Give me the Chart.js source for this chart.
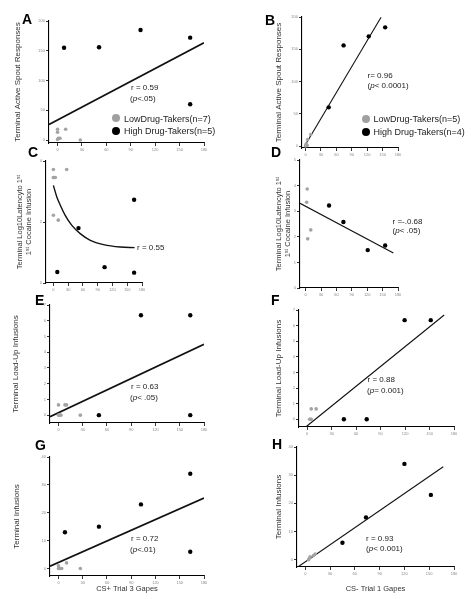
<!DOCTYPE html>
<html><head><meta charset="utf-8">
<script src="https://cdn.jsdelivr.net/npm/chart.js@4.4.1/dist/chart.umd.min.js"></script>
<style>
html,body{margin:0;padding:0;background:#fff;width:472px;height:599px;overflow:hidden;position:relative;font-family:"Liberation Sans",Arial,sans-serif;}
canvas{position:absolute;}
.t{position:absolute;white-space:nowrap;transform:translateY(-50%);line-height:1;color:#222;font-size:8px;}
.lg{font-size:9px;}
.L{font-weight:bold;font-size:14px;color:#000;}
.dot{position:absolute;border-radius:50%;transform:translate(-50%,-50%);width:8px;height:8px;}
</style></head><body>
<script>
const FONT = '"Liberation Sans", Arial, sans-serif';

// ---- tick values ----
const gapeTicks = [0, 30, 60, 90, 120, 150, 180];
const spoutTicks = [0, 50, 100, 150, 200];
const latencyTicksC = [0, 2, 4];
const latencyTicksD = [0, 1, 2, 3, 4, 5];
const loadUpTicks = [0, 1, 2, 3, 4, 5, 6, 7];
const infusionTicks = [0, 10, 20, 30, 40];

// ---- A: CS+ Trial 3 gapes vs active spout responses ----
const aLow  = [[0,18],[0,13],[1,3],[3,3],[10,18],[28,0],[0,1]];
const aHigh = [[8,155],[51,156],[102,185],[163,172],[163,60]];
const aFit  = [[-10.5,26],[180,163.5]];
// ---- B: CS- Trial 1 gapes vs active spout responses ----
const bLow  = [[0,0],[1,3],[4,10],[10,18],[3,1]];
const bHigh = [[45,60],[74,156],[123,170],[155,184]];
const bFit  = [[-2.7,-1],[147,199.5]];
// ---- C: CS+ vs log10 latency (curve) ----
const cLow  = [[0,3.72],[27,3.72],[0,3.46],[4,3.46],[0,2.22],[10,2.06],[1,3.46]];
const cHigh = [[8,0.36],[51,1.8],[104,0.52],[164,2.73],[164,0.34]];
const cFit  = [[0,3.2],[7,2.82],[14,2.55],[24,2.22],[37.5,1.89],[54.5,1.62],[75,1.4],[102,1.26],[136,1.18],[165,1.16]];
// ---- D: CS- vs log10 latency ----
const dLow  = [[3,3.87],[2,3.35],[10,2.27],[4,1.92]];
const dHigh = [[45.6,3.22],[73.6,2.58],[121,1.48],[155,1.66]];
const dFit  = [[-11,3.31],[171,1.37]];
// ---- E: CS+ vs load-up infusions ----
const eLow  = [[0,0.65],[0,0],[3,0],[8,0.65],[10,0.65],[27,0],[1,0]];
const eHigh = [[50,0],[102,6.35],[163,6.35],[163,0]];
const eFit  = [[-10.5,-0.1],[180,4.5]];
// ---- F: CS- vs load-up infusions ----
const fLow  = [[3,0],[5,0],[5,0.66],[11,0.66],[4,0]];
const fHigh = [[45,0],[73,0],[119.5,6.35],[151.5,6.35]];
const fFit  = [[-1,-0.47],[168,6.68]];
// ---- G: CS+ vs terminal infusions ----
const gLow  = [[0,1],[0,0],[2,0],[4,0],[10,2],[27,0],[1,0]];
const gHigh = [[8,13],[50,15],[102,23],[163,34],[163,6]];
const gFit  = [[-10.5,0.8],[180,25.3]];
// ---- H: CS- vs terminal infusions ----
const hLow  = [[4,0],[5,0.5],[6,1],[10,1.5],[12,2]];
const hHigh = [[45,6],[73.5,15],[120,34],[152,23]];
const hFit  = [[-9,-2.6],[167,33]];

const yTitleSpout = 'Terminal Active Spout Responses';
const yTitleLatency = ['Terminal Log10Latencyto 1ˢᵗ', '1ˢᵗ Cocaine Infusion'];
const yTitleLoad = 'Terminal Load-Up Infusions';
const yTitleInf = 'Terminal Infusions';
const xTitleG = 'CS+ Trial 3 Gapes';
const xTitleH = 'CS- Trial 1 Gapes';
const legendA = ['LowDrug-Takers(n=7)', 'High Drug-Takers(n=5)'];
const legendB = ['LowDrug-Takers(n=5)', 'High Drug-Takers(n=4)'];

const pts = a => a.map(([x, y]) => ({x, y}));

const panels = [
  {area:[49,21,204,143], x:[-10.5,180], y:[-5,200], yt:spoutTicks, low:aLow, high:aHigh, fit:aFit, lw:1.8, yTitle:yTitleSpout, yfs:8, yTitleX:18},
  {area:[302,17,398,148], x:[-7,180], y:[-3,200], yt:spoutTicks, low:bLow, high:bHigh, fit:bFit, lw:1.1, yTitle:yTitleSpout, yfs:8, yTitleX:278.7},
  {area:[46,161,142,283], x:[-15,180], y:[0,4], yt:latencyTicksC, low:cLow, high:cHigh, fit:cFit, lw:1.4, tension:0.4, yTitle:yTitleLatency, yfs:7.5, yTitleX:20},
  {area:[300,160,398,288], x:[-11,180], y:[0,5], yt:latencyTicksD, low:dLow, high:dHigh, fit:dFit, lw:1.1, yTitle:yTitleLatency, yfs:7.5, yTitleX:279.3},
  {area:[50,305,204,423], x:[-10.5,180], y:[-0.5,7], yt:loadUpTicks, low:eLow, high:eHigh, fit:eFit, lw:1.8, yTitle:yTitleLoad, yfs:8, yTitleX:15.5},
  {area:[299,310,454,427], x:[-10,180], y:[-0.5,7], yt:loadUpTicks, low:fLow, high:fHigh, fit:fFit, lw:1.1, yTitle:yTitleLoad, yfs:8, yTitleX:278.7},
  {area:[50,457,204,576], x:[-10.5,180], y:[-2.7,40], yt:infusionTicks, low:gLow, high:gHigh, fit:gFit, lw:1.8, yTitle:yTitleInf, yfs:8, yTitleX:16.7, xTitle:xTitleG, xTitleY:589},
  {area:[297,447,454,567], x:[-10,180], y:[-2.6,40], yt:infusionTicks, low:hLow, high:hHigh, fit:hFit, lw:1.1, yTitle:yTitleInf, yfs:8, yTitleX:278.7, xTitle:xTitleH, xTitleY:589},
];

function makePanel(p) {
  const yW = 40, padT = 6, padR = 8;
  const xH = p.xTitle ? 30 : 14;
  const [L, T, R, B] = p.area;
  const cl = L - yW, ct = T - padT;
  const w = R + padR - cl, h = B + xH - ct;
  const cv = document.createElement('canvas');
  cv.width = w; cv.height = h;
  cv.style.left = cl + 'px'; cv.style.top = ct + 'px';
  cv.style.width = w + 'px'; cv.style.height = h + 'px';
  document.body.appendChild(cv);
  const ylh = p.yfs * 1.2;
  const yPad = p.yTitleX - cl - ylh / 2;
  const xfs = 7.5, xlh = xfs * 1.2;
  const xPadB = p.xTitle ? (B + xH) - xlh / 2 - p.xTitleY : 0;
  const tickFont = {size: 4, family: FONT};
  new Chart(cv, {
    type: 'scatter',
    data: {datasets: [
      {data: pts(p.low), backgroundColor: '#a3a3a3', pointRadius: 1.8, borderWidth: 0, pointHoverRadius: 1.8},
      {data: pts(p.high), backgroundColor: '#000', pointRadius: 2.2, borderWidth: 0, pointHoverRadius: 2.2},
      {data: pts(p.fit), showLine: true, borderColor: '#111', borderWidth: p.lw, pointRadius: 0, fill: false, tension: p.tension || 0, cubicInterpolationMode: p.tension ? 'monotone' : 'default'}
    ]},
    options: {
      responsive: false, animation: false, devicePixelRatio: 1,
      layout: {padding: {left: 0, top: padT, right: padR, bottom: 0}},
      plugins: {legend: {display: false}, tooltip: {enabled: false}},
      scales: {
        x: {
          type: 'linear', position: 'bottom', min: p.x[0], max: p.x[1],
          afterBuildTicks: s => { s.ticks = gapeTicks.map(v => ({value: v})); },
          afterFit: s => { s.height = xH; },
          grid: {drawOnChartArea: false, drawTicks: true, tickLength: 3, color: '#000', lineWidth: 0.8},
          border: {display: true, color: '#000', width: 1.1},
          ticks: {font: tickFont, color: '#888', padding: 1, maxRotation: 0, autoSkip: false},
          title: p.xTitle ? {display: true, text: p.xTitle, color: '#333', font: {size: xfs, family: FONT}, padding: {top: 0, bottom: xPadB}} : {display: false}
        },
        y: {
          type: 'linear', position: 'left', min: p.y[0], max: p.y[1],
          afterBuildTicks: s => { s.ticks = p.yt.map(v => ({value: v})); },
          afterFit: s => { s.width = yW; },
          grid: {drawOnChartArea: false, drawTicks: true, tickLength: 3, color: '#000', lineWidth: 0.8},
          border: {display: true, color: '#000', width: 1.1},
          ticks: {font: tickFont, color: '#888', padding: 1, autoSkip: false},
          title: {display: true, text: p.yTitle, color: '#333', font: {size: p.yfs, family: FONT}, padding: {top: yPad, bottom: 0}}
        }
      }
    }
  });
}
panels.forEach(makePanel);

// ---- text overlays ----
function addText(html, x, y, cls) {
  const d = document.createElement('div');
  d.className = 't ' + (cls || '');
  d.style.left = x + 'px'; d.style.top = y + 'px';
  d.innerHTML = html;
  document.body.appendChild(d);
}
function addDot(x, y, color) {
  const d = document.createElement('div');
  d.className = 'dot';
  d.style.left = x + 'px'; d.style.top = y + 'px'; d.style.background = color;
  document.body.appendChild(d);
}
const letters = [['A',22,19],['B',265,20],['C',28,152],['D',271,152],['E',35,300],['F',271,300],['G',35,445],['H',272,444]];
letters.forEach(([t, x, y]) => addText(t, x, y, 'L'));

const notes = [
  ['r = 0.59', 131, 87.5], ['(<i>p</i>&lt;.05)', 130, 98.5],
  ['r= 0.96', 367.5, 76], ['(<i>p</i>&lt; 0.0001)', 367.5, 86],
  ['r = 0.55', 137, 247.5],
  ['r =-.0.68', 392.5, 221.5], ['(<i>p</i>&lt; .05)', 392.5, 231],
  ['r = 0.63', 131, 387], ['(<i>p</i>&lt; .05)', 130, 398],
  ['r = 0.88', 367.5, 380], ['(<i>p</i>= 0.001)', 367, 390.5],
  ['r = 0.72', 131, 539], ['(<i>p</i>&lt;.01)', 130, 549.5],
  ['r = 0.93', 366, 538.5], ['(<i>p</i>&lt; 0.001)', 366, 549]
];
notes.forEach(([t, x, y]) => addText(t, x, y));

addDot(116, 118.3, '#a0a0a0'); addText(legendA[0], 124, 118.5, 'lg');
addDot(116, 130.7, '#000');    addText(legendA[1], 124, 131, 'lg');
addDot(366, 119, '#a0a0a0');   addText(legendB[0], 373.5, 119.2, 'lg');
addDot(366, 131.7, '#000');    addText(legendB[1], 373.5, 132, 'lg');
</script>
</body></html>
